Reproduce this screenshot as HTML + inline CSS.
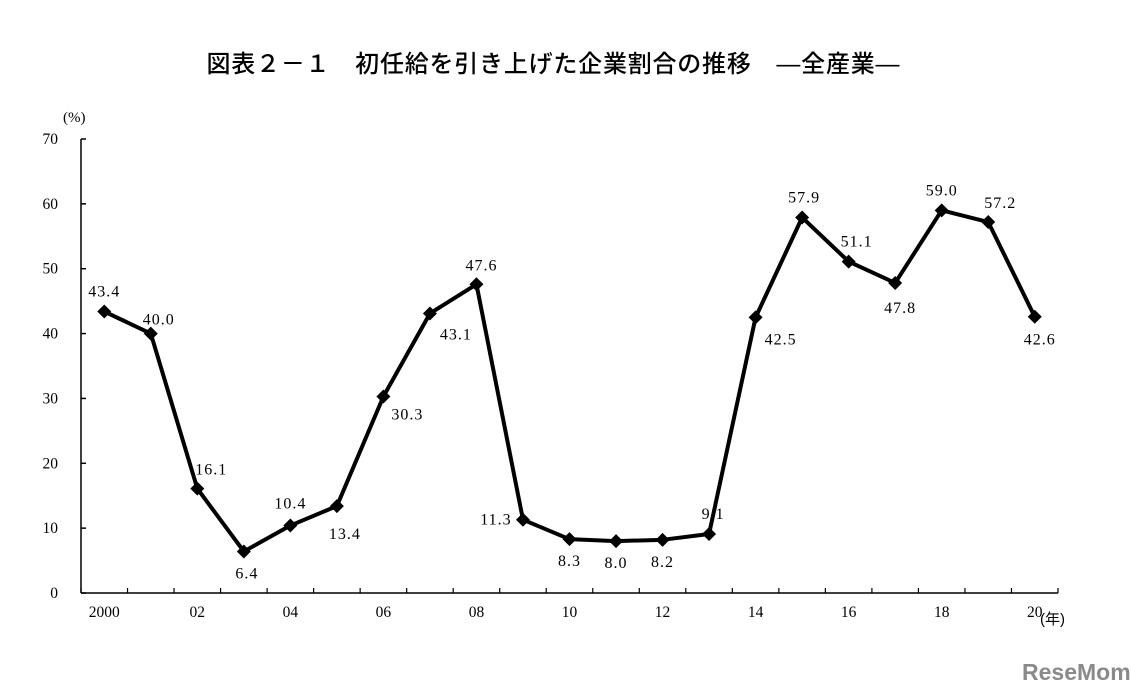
<!DOCTYPE html>
<html><head><meta charset="utf-8"><style>
body{margin:0;background:#fff;width:1131px;height:700px;overflow:hidden}
svg{display:block}
text{font-family:"Liberation Serif","Noto Serif CJK SC",serif;fill:#000}
</style></head><body>
<svg width="1131" height="700">
<text x="553" y="72" text-anchor="middle" font-size="24" font-weight="500" textLength="693" style="font-family:'Liberation Sans','Noto Sans CJK JP',sans-serif">図表２－１　初任給を引き上げた企業割合の推移　―全産業―</text>
<text x="63" y="122" font-size="15">(%)</text>
<g id="axes"></g>
<g id="marks"></g>
<text x="1040" y="624" font-size="15" style="font-family:'Liberation Sans','Noto Sans CJK JP',sans-serif">(年)</text>
<text x="1022" y="680" font-size="23" font-weight="bold" style="fill:#8a8a8a;font-family:'Liberation Sans',sans-serif">ReseMom</text>
</svg>
<script>
const years=["2000","01","02","03","04","05","06","07","08","09","10","11","12","13","14","15","16","17","18","19","20"];
const values=[43.4,40.0,16.1,6.4,10.4,13.4,30.3,43.1,47.6,11.3,8.3,8.0,8.2,9.1,42.5,57.9,51.1,47.8,59.0,57.2,42.6];
const yTicks=[0,10,20,30,40,50,60,70];
const xLabels=["2000","","02","","04","","06","","08","","10","","12","","14","","16","","18","","20"];
const labelOffsets=[[0,-20],[8,-14],[14,-19],[3,22],[0,-22],[8,28],[24,18],[26,21],[5,-19],[-27,0],[0,22],[0,22],[0,22],[4,-20],[25,22],[2,-20],[8,-20],[5,25],[0,-20],[12,-19],[5,23]];
const NS="http://www.w3.org/2000/svg";
const x0=81,x1=1058,yB=593,yT=139;
const bw=(x1-x0)/years.length;
const xs=i=>x0+bw*(i+0.5);
const ys=v=>yB-(v/70)*(yB-yT);
const axes=document.getElementById('axes'),marks=document.getElementById('marks');
function mk(t,a,p){const e=document.createElementNS(NS,t);for(const k in a)e.setAttribute(k,a[k]);p.appendChild(e);return e;}
const ya=mk('line',{x1:x0,y1:yT,x2:x0,y2:yB,stroke:'#000','stroke-width':1.5},axes);


const xa=mk('line',{x1:x0,y1:yB,x2:x1,y2:yB,stroke:'#000','stroke-width':1.5},axes);


yTicks.forEach(v=>{const y=ys(v);mk('line',{x1:x0,y1:y,x2:x0+5,y2:y,stroke:'#000','stroke-width':1.5},axes);
const t=mk('text',{x:x0-23,y:y+5,'text-anchor':'end','font-size':15.5},axes);t.textContent=v;

});
for(let i=0;i<=years.length;i++){mk('line',{x1:x0+bw*i,y1:yB,x2:x0+bw*i,y2:yB-5,stroke:'#000','stroke-width':1.2},axes);}
xLabels.forEach((l,i)=>{if(!l)return;const t=mk('text',{x:xs(i),y:617,'text-anchor':'middle','font-size':15.5},axes);t.textContent=l;

});
const line=mk('polyline',{points:values.map((v,i)=>xs(i)+','+ys(v)).join(' '),fill:'none',stroke:'#000','stroke-width':4,'stroke-linejoin':'round'},marks);


values.forEach((v,i)=>{const x=xs(i),y=ys(v);
const d=mk('polygon',{points:`${x},${y-7} ${x+7},${y} ${x},${y+7} ${x-7},${y}`,fill:'#000'},marks);


const o=labelOffsets[i];
const t=mk('text',{x:x+o[0],y:y+o[1]+5,'text-anchor':'middle','font-size':16,'letter-spacing':1},marks);
t.textContent=v.toFixed(1);

});
</script>
</body></html>
